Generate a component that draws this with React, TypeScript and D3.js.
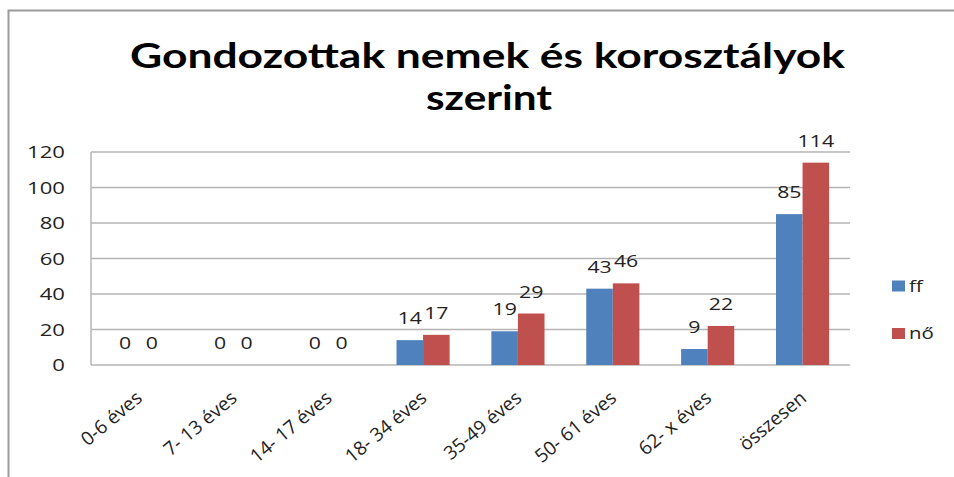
import React from "react";
import * as d3 from "d3";

const categories = [
  "0-6 éves",
  "7- 13 éves",
  "14- 17 éves",
  "18- 34 éves",
  "35-49 éves",
  "50- 61 éves",
  "62- x éves",
  "összesen",
];
const ffValues = [0, 0, 0, 14, 19, 43, 9, 85];
const noValues = [0, 0, 0, 17, 29, 46, 22, 114];
const seriesNames = ["ff", "nő"];
const seriesColors = ["#4F81BD", "#C0504D"];
const yTicks = [0, 20, 40, 60, 80, 100, 120];
const titleLines = ["Gondozottak nemek és korosztályok", "szerint"];

const W = 954;
const H = 477;
const FONT = "'Open Sans', sans-serif";

// text drawn with a sideways stretch, like the picture
const T = ({ x, y, size, anchor = "middle", rotate = 0, sx = 1.3, fill = "#222", children }) => (
  <text
    transform={`translate(${x},${y}) scale(${sx},1) rotate(${rotate})`}
    textAnchor={anchor}
    fontSize={size}
    fontFamily={FONT}
    fill={fill}
  >
    {children}
  </text>
);

export default function App() {
  const x = d3
    .scaleBand()
    .domain(categories)
    .range([91, 850])
    .paddingInner(0.44)
    .paddingOuter(0.22);
  const xs = d3.scaleBand().domain(seriesNames).range([0, x.bandwidth()]);
  const y = d3.scaleLinear().domain([0, 120]).range([365, 152]);

  const series = [ffValues, noValues];

  return (
    <svg
      width={W}
      height={H}
      style={{ position: "absolute", left: 0, top: 0, background: "#fff" }}
    >
      {/* outer frame */}
      <path d={`M8.5,${H} V10.5 H${W}`} fill="none" stroke="#9a9a9a" strokeWidth={2} />

      {/* title */}
      {titleLines.map((t, i) => (
        <text
          key={t}
          x={i === 0 ? 487.5 : 489}
          y={i === 0 ? 68 : 110}
          textAnchor="middle"
          fontFamily="Lato, sans-serif"
          fontWeight="bold"
          fontSize={35}
          textLength={i === 0 ? 715 : 126}
          lengthAdjust="spacingAndGlyphs"
          fill="#000"
        >
          {t}
        </text>
      ))}

      {/* grid */}
      {yTicks.map((t) => (
        <g key={t}>
          <line
            x1={91}
            x2={850}
            y1={y(t)}
            y2={y(t)}
            stroke="#b4b4b4"
            strokeWidth={1.5}
          />
          <T x={65} y={y(t) + 6} size={17} anchor="end">
            {t}
          </T>
        </g>
      ))}
      <line x1={91} x2={91} y1={y(120)} y2={y(0)} stroke="#b4b4b4" strokeWidth={1.5} />

      {/* bars */}
      {categories.map((c, i) => (
        <g key={c}>
          {series.map((vals, s) => {
            const bx = x(c) + xs(seriesNames[s]);
            return (
              <g key={s}>
                <rect
                  x={bx}
                  y={y(vals[i])}
                  width={xs.bandwidth()}
                  height={y(0) - y(vals[i])}
                  fill={seriesColors[s]}
                />
                <T x={bx + xs.bandwidth() / 2} y={y(vals[i]) - 16} size={17} sx={1.25}>
                  {vals[i]}
                </T>
              </g>
            );
          })}
          <T
            x={x(c) + x.bandwidth() / 2 + 5}
            y={400}
            size={19}
            sx={1}
            anchor="end"
            rotate={-40}
          >
            {c}
          </T>
        </g>
      ))}

      {/* legend */}
      {seriesNames.map((n, s) => (
        <g key={n}>
          <rect x={892} y={280.5 + s * 47.5} width={13} height={11} fill={seriesColors[s]} />
          <T x={909} y={291.5 + s * 47.5} size={17} sx={1.2} anchor="start">
            {n}
          </T>
        </g>
      ))}
    </svg>
  );
}
